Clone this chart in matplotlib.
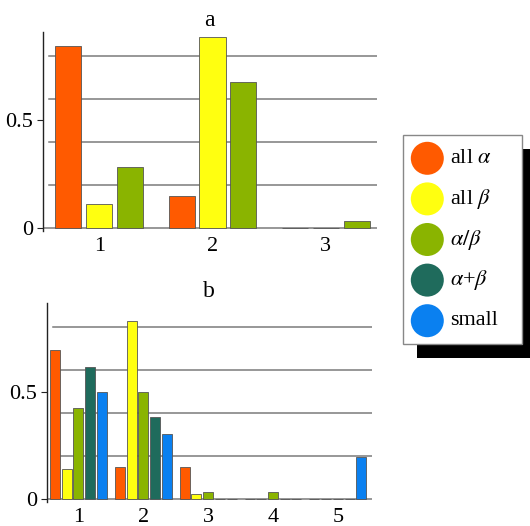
import numpy as np
import matplotlib
matplotlib.use("Agg")
import matplotlib.pyplot as plt
from matplotlib.patches import Rectangle, Circle

plt.rcParams['font.family'] = ['Liberation Serif', 'DejaVu Serif']
plt.rcParams['mathtext.fontset'] = 'stix'
plt.rcParams['font.size'] = 16

# ---------- data ----------
labels = ["all $\\alpha$", "all $\\beta$", "$\\alpha/\\beta$", "$\\alpha$+$\\beta$", "small"]
colors = ["#FF5A00", "#FFFF10", "#8AB400", "#1F6B5C", "#0A80F0"]

cats_a = [1, 2, 3]
a_all_alpha = [0.847, 0.150, 0.0]
a_all_beta = [0.112, 0.887, 0.0]
a_alpha_beta = [0.285, 0.681, 0.034]

cats_b = [1, 2, 3, 4, 5]
b_all_alpha = [0.693, 0.150, 0.150, 0.0, 0.0]
b_all_beta = [0.141, 0.828, 0.025, 0.0, 0.0]
b_alpha_beta = [0.426, 0.499, 0.036, 0.036, 0.0]
b_alpha_plus_beta = [0.614, 0.383, 0.0, 0.0, 0.0]
b_small = [0.499, 0.301, 0.0, 0.0, 0.197]

grid_levels = [0.2, 0.4, 0.6, 0.8]
yticks = [0, 0.5]
ytick_labels = ["0", "0.5"]

W, H = 530, 526
fig = plt.figure(figsize=(W/100, H/100), dpi=100)

def style_axes(ax, title, xlim, cats):
    ax.set_xlim(*xlim)
    ax.set_ylim(-0.015, 0.913)
    for s in ["top", "right", "bottom"]:
        ax.spines[s].set_visible(False)
    ax.spines["left"].set_color("#222222")
    ax.spines["left"].set_linewidth(1.0)
    for g in grid_levels:
        ax.axhline(g, xmin=0.02, xmax=1, color="#7a7a7a", lw=1.1, zorder=1)
    ax.axhline(0, xmin=0, xmax=1, color="#7a7a7a", lw=1.1, zorder=1)
    ax.set_yticks(yticks)
    ax.set_yticklabels(ytick_labels)
    ax.set_xticks(cats)
    ax.tick_params(axis="x", length=0, pad=4)
    ax.tick_params(axis="y", length=4, width=0.8, pad=3, color="#222222")
    ax.set_facecolor("none")
    ax.set_title(title, pad=4, fontsize=17)

def draw_group(ax, cats, series, width, step):
    x = np.array(cats, float)
    n = len(series)
    for i, vals in enumerate(series):
        ax.bar(x + (i - (n - 1) / 2) * step, vals, width, color=colors[i],
               edgecolor="#555555", linewidth=0.6, zorder=3)

# panel a
ax_a = fig.add_axes([0.0806, 0.5605, 0.630, 0.3793])
draw_group(ax_a, cats_a, [a_all_alpha, a_all_beta, a_alpha_beta], 0.23, 0.273)
style_axes(ax_a, "a", (0.5, 3.45), cats_a)

# panel b
ax_b = fig.add_axes([0.0881, 0.0447, 0.613, 0.3798])
draw_group(ax_b, cats_b, [b_all_alpha, b_all_beta, b_alpha_beta, b_alpha_plus_beta, b_small], 0.154, 0.181)
style_axes(ax_b, "b", (0.51, 5.52), cats_b)

# legend with black drop shadow, drawn in pixel space
lg = fig.add_axes([0, 0, 1, 1])
lg.set_xlim(0, W)
lg.set_ylim(H, 0)
lg.axis("off")
bx0, by0, bx1, by1 = 403.3, 135, 522.3, 344.3
lg.add_patch(Rectangle((bx0 + 14, by0 + 14), bx1 - bx0, by1 - by0, facecolor="black", edgecolor="none"))
lg.add_patch(Rectangle((bx0, by0), bx1 - bx0, by1 - by0, facecolor="white", edgecolor="#888888", lw=1))
for i, (lab, c) in enumerate(zip(labels, colors)):
    cy = 158.3 + i * 40.6
    lg.add_patch(Circle((427.3, cy), 16.5, facecolor=c, edgecolor="none"))
    lg.text(450, cy, lab, va="center", ha="left", fontsize=16)

fig.savefig("out.png", dpi=100)
